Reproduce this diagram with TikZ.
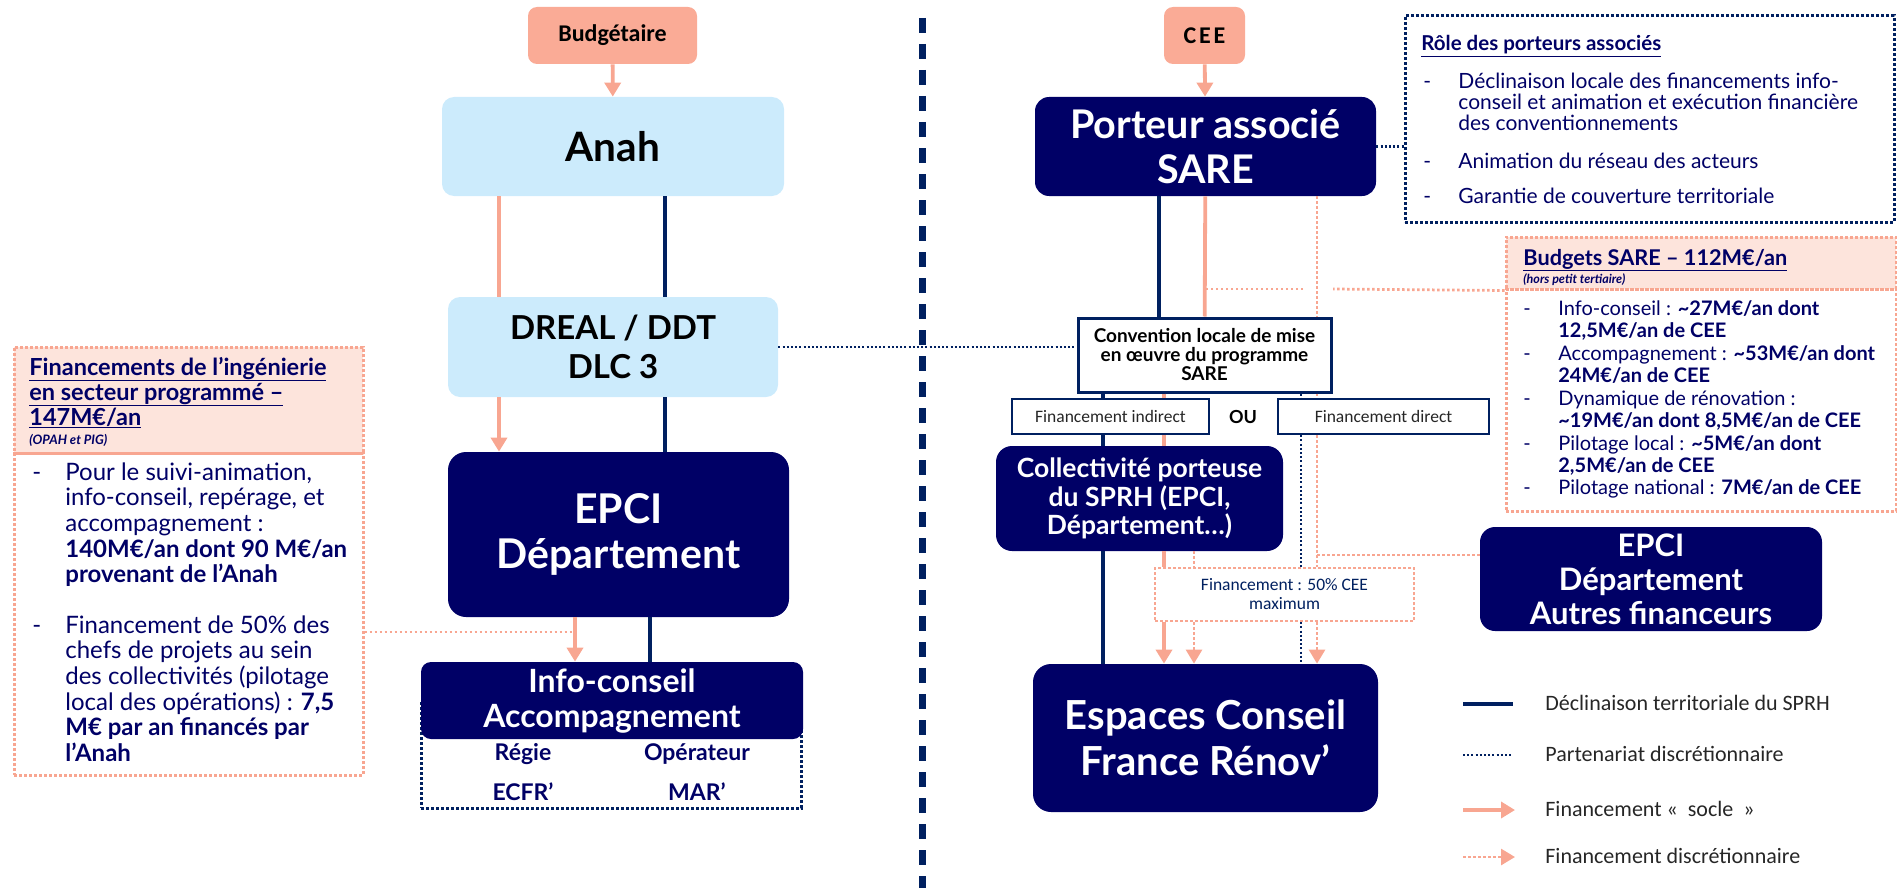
\documentclass[tikz,border=0pt]{standalone}
\usepackage{fontspec}
\setmainfont{Lato}
\newfontfamily\calib{Carlito}
\usetikzlibrary{arrows.meta}

\definecolor{navyfill}{RGB}{0,0,102}
\definecolor{navyline}{RGB}{0,32,96}
\definecolor{salmon}{RGB}{248,166,145}
\definecolor{salmonfill}{RGB}{250,171,150}
\definecolor{skyfill}{RGB}{204,235,252}
\definecolor{pinkfill}{RGB}{253,228,220}
\definecolor{legendgray}{RGB}{38,38,38}

\tikzset{every picture/.style={line width=0.75pt},
  srcbox/.style={fill=salmonfill, rounded corners=9pt, inner sep=0pt, font=\calib\fontsize{24}{26}\selectfont\bfseries},
  skybox/.style={fill=skyfill, rounded corners=12pt, inner sep=0pt, align=center},
  navybox/.style={fill=navyfill, text=white, inner sep=0pt, align=center},
  plainbox/.style={draw=navyline, fill=white, inner sep=0pt, align=center},
  notebox/.style={draw=salmon, line width=3pt, dash pattern=on 3pt off 2pt, inner sep=0pt},
  rolebox/.style={draw=navyline, line width=3pt, dash pattern=on 3pt off 2pt, inner sep=0pt},
  sprh/.style={draw=navyline, line width=3.2pt},
  partner/.style={draw=navyline, line width=2.75pt, dash pattern=on 2pt off 2.2pt},
  socleline/.style={draw=salmon, line width=3.8pt},
  socle/.style={socleline, -{Triangle[length=14pt,width=16pt]}},
  discr/.style={draw=salmon, line width=2.75pt, dash pattern=on 2.5pt off 2.5pt},
  discrarrow/.style={discr, -{Triangle[length=14pt,width=16pt]}},
  bodytext/.style={anchor=base west, align=left, text=navyfill, inner sep=0pt},
  legendtext/.style={anchor=base west, inner sep=0pt, text=legendgray, font=\calib\fontsize{22}{24}\selectfont},
  divider/.style={draw=navyline, line width=7pt, dash pattern=on 15pt off 11pt}
}

\begin{document}
\begin{tikzpicture}[x=1pt,y=1pt,yscale=-1,xscale=1]
\useasboundingbox (0,0) rectangle (1897,888);

%Divider
\coordinate (divT) at (922,18);
\coordinate (divB) at (922,888);
\draw [divider] (divT) -- (divB);

%Source boxes
\node [srcbox, minimum width=169pt, minimum height=57pt] (budget) at (612.5,35.5) {Budgétaire};
\node [srcbox, minimum width=81pt, minimum height=57pt] (cee) at (1204.5,35.5) {\addfontfeatures{LetterSpace=12}CEE};

%Left column
\node [skybox, minimum width=342pt, minimum height=99pt, font=\fontsize{40.5}{42}\selectfont\bfseries] (anah) at (613,146.5) {Anah};
\node [skybox, minimum width=330pt, minimum height=100pt, font=\fontsize{33}{39}\selectfont\bfseries] (dreal) at (613,347) {DREAL / DDT\\DLC 3};
\node [navybox, rounded corners=18pt, minimum width=341pt, minimum height=165pt, font=\fontsize{41}{45}\selectfont\bfseries] (epciL) at (618.5,534.5) {EPCI\\Département};
\node [rolebox, minimum width=380pt, minimum height=108pt] (opbox) at (611,754) {};
\node [navybox, rounded corners=10pt, minimum width=382pt, minimum height=77pt, font=\fontsize{32}{35}\selectfont\bfseries] (info) at (612,700.5) {Info-conseil\\Accompagnement};

% Text Node
\node [anchor=base, inner sep=0pt, text=navyfill, font=\fontsize{23}{25}\selectfont\bfseries] (regie) at (523,760) {Régie};
% Text Node
\node [anchor=base, inner sep=0pt, text=navyfill, font=\fontsize{23}{25}\selectfont\bfseries] (operateur) at (697,760) {Opérateur};
% Text Node
\node [anchor=base, inner sep=0pt, text=navyfill, font=\fontsize{23}{25}\selectfont\bfseries] (ecfr) at (523,800) {ECFR’};
% Text Node
\node [anchor=base, inner sep=0pt, text=navyfill, font=\fontsize{23}{25}\selectfont\bfseries] (mar) at (697,800) {MAR’};

%Left note
\node [notebox, fill=pinkfill, minimum width=349pt, minimum height=106pt] (lefthd) at (188.5,400) {};
\node [notebox, minimum width=349pt, minimum height=322pt] (leftbd) at (188.5,614) {};

% Text Node
\node [bodytext, font=\fontsize{23.5}{25}\selectfont\bfseries] (lefttitle) at (29,425) {\underline{Financements de l’ingénierie}\\\underline{en secteur programmé –}\\\underline{147M€/an}};
% Text Node
\node [bodytext, font=\fontsize{13}{15}\selectfont\bfseries\itshape] (leftnote) at (29,444) {(OPAH et PIG)};
% Text Node
\node [bodytext, font=\fontsize{24}{25.7}\selectfont] (leftdashA) at (32,480) {-};
\node [bodytext, font=\fontsize{24}{25.7}\selectfont] (leftitemA) at (65,582.8) {Pour le suivi-animation,\\info-conseil, repérage, et\\accompagnement :\\\textbf{140M€/an dont 90 M€/an}\\\textbf{provenant de l’Anah}};
% Text Node
\node [bodytext, font=\fontsize{24}{25.7}\selectfont] (leftdashB) at (32,633) {-};
\node [bodytext, font=\fontsize{24}{25.7}\selectfont] (leftitemB) at (65,761.5) {Financement de 50\% des\\chefs de projets au sein\\des collectivités (pilotage\\local des opérations) : \textbf{7,5}\\\textbf{M€ par an financés par}\\\textbf{l’Anah}};

%Right column
\node [navybox, rounded corners=14pt, minimum width=341pt, minimum height=99pt, font=\fontsize{39.5}{45}\selectfont\bfseries] (porteur) at (1205.5,146.5) {Porteur associé\\SARE};
\node [plainbox, line width=3pt, minimum width=253pt, minimum height=74pt, font=\fontsize{19}{19}\selectfont\bfseries] (conv) at (1204.5,355) {Convention locale de mise\\en œuvre du programme\\SARE};
\node [plainbox, line width=2.5pt, minimum width=197pt, minimum height=35pt, text=legendgray, font=\calib\fontsize{17.5}{20}\selectfont] (indirect) at (1110.5,416.5) {Financement indirect};
\node [inner sep=0pt, font=\fontsize{18}{19}\selectfont\bfseries] (ou) at (1243,417) {OU};
\node [plainbox, line width=2.5pt, minimum width=211pt, minimum height=35pt, text=legendgray, font=\calib\fontsize{17.5}{20}\selectfont] (direct) at (1383.5,416.5) {Financement direct};
\node [navybox, rounded corners=16pt, minimum width=287pt, minimum height=105pt, font=\fontsize{26.5}{28.5}\selectfont\bfseries] (coll) at (1139.5,498.5) {Collectivité porteuse\\du SPRH (EPCI,\\Département…)};
\node [notebox, fill=white, line width=2.25pt, minimum width=259pt, minimum height=53pt, align=center, text=navyline, font=\calib\fontsize{17.5}{19}\selectfont] (fifty) at (1284.5,594.5) {Financement : 50\% CEE\\maximum};
\node [navybox, rounded corners=18pt, minimum width=345pt, minimum height=148pt, font=\fontsize{40}{46}\selectfont\bfseries] (espaces) at (1205.5,738) {Espaces Conseil\\France Rénov’};

%Role note
\node [rolebox, minimum width=489pt, minimum height=206pt] (role) at (1649.5,119) {};
% Text Node
\node [bodytext, font=\fontsize{20.5}{22}\selectfont\bfseries] (roletitle) at (1421,51) {\underline{Rôle des porteurs associés}};
% Text Node
\node [bodytext, font=\fontsize{21}{21}\selectfont] (roledashA) at (1423,89) {-};
\node [bodytext, font=\fontsize{21}{21}\selectfont] (roleitemA) at (1458,131) {Déclinaison locale des financements info-\\conseil et animation et exécution financière\\des conventionnements};
% Text Node
\node [bodytext, font=\fontsize{21}{21}\selectfont] (roledashB) at (1423,168) {-};
\node [bodytext, font=\fontsize{21}{21}\selectfont] (roleitemB) at (1458,168) {Animation du réseau des acteurs};
% Text Node
\node [bodytext, font=\fontsize{21}{21}\selectfont] (roledashC) at (1423,203) {-};
\node [bodytext, font=\fontsize{21}{21}\selectfont] (roleitemC) at (1458,203) {Garantie de couverture territoriale};

%Budgets note
\node [notebox, fill=pinkfill, minimum width=390pt, minimum height=52pt] (budgetshd) at (1701,263) {};
\node [notebox, minimum width=390pt, minimum height=222pt] (budgetsbd) at (1701,400) {};
% Text Node
\node [bodytext, font=\fontsize{21.7}{24}\selectfont\bfseries] (budgetstitle) at (1523,265) {\underline{Budgets SARE – 112M€/an}};
% Text Node
\node [bodytext, font=\fontsize{12.5}{14}\selectfont\bfseries\itshape] (budgetsnote) at (1523,283) {(hors petit tertiaire)};
% Text Node
\node [bodytext, font=\fontsize{20}{22.4}\selectfont] (budgetsdashA) at (1523,315.5) {-};
\node [bodytext, font=\fontsize{20}{22.4}\selectfont] (budgetsitemA) at (1558,337.9) {Info-conseil : \textbf{\textasciitilde27M€/an dont}\\\textbf{12,5M€/an de CEE}};
% Text Node
\node [bodytext, font=\fontsize{20}{22.4}\selectfont] (budgetsdashB) at (1523,360.5) {-};
\node [bodytext, font=\fontsize{20}{22.4}\selectfont] (budgetsitemB) at (1558,382.9) {Accompagnement : \textbf{\textasciitilde53M€/an dont}\\\textbf{24M€/an de CEE}};
% Text Node
\node [bodytext, font=\fontsize{20}{22.4}\selectfont] (budgetsdashC) at (1523,405.5) {-};
\node [bodytext, font=\fontsize{20}{22.4}\selectfont] (budgetsitemC) at (1558,427.9) {Dynamique de rénovation :\\\textbf{\textasciitilde19M€/an dont 8,5M€/an de CEE}};
% Text Node
\node [bodytext, font=\fontsize{20}{22.4}\selectfont] (budgetsdashD) at (1523,450.5) {-};
\node [bodytext, font=\fontsize{20}{22.4}\selectfont] (budgetsitemD) at (1558,472.9) {Pilotage local : \textbf{\textasciitilde5M€/an dont}\\\textbf{2,5M€/an de CEE}};
% Text Node
\node [bodytext, font=\fontsize{20}{22.4}\selectfont] (budgetsdashE) at (1523,494.5) {-};
\node [bodytext, font=\fontsize{20}{22.4}\selectfont] (budgetsitemE) at (1558,494.5) {Pilotage national : \textbf{7M€/an de CEE}};

\node [navybox, rounded corners=15pt, minimum width=342pt, minimum height=104pt, font=\fontsize{31}{34}\selectfont\bfseries] (epciR) at (1651,579) {EPCI\\Département\\Autres financeurs};

%Columns of the connectors
\coordinate (cSl) at (499,0);
\coordinate (cNl) at (665,0);
\coordinate (cSm) at (575,0);
\coordinate (cNm) at (650,0);
\coordinate (cNa) at (1159,0);
\coordinate (cNb) at (1103,0);
\coordinate (cSb) at (1164,0);
\coordinate (cSd) at (1194,0);
\coordinate (cNd) at (1301,0);
\coordinate (cSe) at (1317,0);
\coordinate (jL) at (575,632);
\coordinate (jR) at (1317,555);
\coordinate (gapA) at (1333,289);
\coordinate (gapB) at (1303,289);

%Left connectors
\draw [socle] (budget) -- (anah);
\draw [socleline] (cSl |- anah.south) -- (cSl |- dreal.north);
\draw [sprh] (cNl |- anah.south) -- (cNl |- dreal.north);
\draw [socle] (cSl |- dreal.south) -- (cSl |- epciL.north);
\draw [sprh] (cNl |- dreal.south) -- (cNl |- epciL.north);
\draw [socle] (cSm |- epciL.south) -- (cSm |- info.north);
\draw [sprh] (cNm |- epciL.south) -- (cNm |- info.north);
\draw [discr] (jL -| leftbd.east) -- (jL);
\draw [partner] (dreal.east) -- (dreal.east -| conv.west);

%Right connectors
\draw [socle] (cee) -- (porteur);
\draw [sprh] (cNa |- porteur.south) -- (cNa |- conv.north);
\draw [socleline] (porteur) -- (conv);
\draw [discr] (cSe |- porteur.south) -- (cSe |- conv.north);
\draw [partner] (porteur.east) -- (porteur.east -| role.west);
\draw [discr] (budgetshd.south west) -- (gapA);
\draw [discr] (gapB) -- (gapB -| porteur.south);
\draw [sprh] (cNb |- conv.south) -- (cNb |- indirect.north);
\draw [sprh] (cNb |- indirect.south) -- (cNb |- coll.north);
\draw [sprh] (cNb |- coll.south) -- (cNb |- espaces.north);
\draw [socleline] (cSb |- conv.south) -- (cSb |- indirect.north);
\draw [socleline] (cSb |- indirect.south) -- (cSb |- coll.north);
\draw [socleline] (cSb |- coll.south) -- (cSb |- fifty.north);
\draw [socle] (cSb |- fifty.south) -- (cSb |- espaces.north);
\draw [discr] (cSd |- coll.south) -- (cSd |- fifty.north);
\draw [discrarrow] (cSd |- fifty.south) -- (cSd |- espaces.north);
\draw [partner] (cNd |- conv.south) -- (cNd |- direct.north);
\draw [partner] (cNd |- direct.south) -- (cNd |- fifty.north);
\draw [partner] (cNd |- fifty.south) -- (cNd |- espaces.north);
\draw [discr] (cSe |- conv.south) -- (cSe |- direct.north);
\draw [discr] (cSe |- direct.south) -- (cSe |- fifty.north);
\draw [discrarrow] (cSe |- fifty.south) -- (cSe |- espaces.north);
\draw [discr] (jR) -- (jR -| epciR.west);

%Legend
\coordinate (lgA1) at (1463,704);
\coordinate (lgB1) at (1513,704);
\coordinate (lgA2) at (1463,755);
\coordinate (lgB2) at (1511,755);
\coordinate (lgA3) at (1463,810);
\coordinate (lgB3) at (1515,810);
\coordinate (lgA4) at (1463,857);
\coordinate (lgB4) at (1515,857);
\draw [sprh] (lgA1) -- (lgB1);
\draw [partner] (lgA2) -- (lgB2);
\draw [socle] (lgA3) -- (lgB3);
\draw [discrarrow] (lgA4) -- (lgB4);
% Text Node
\node [legendtext] (lgtxtA) at (1545,710) {Déclinaison territoriale du SPRH};
% Text Node
\node [legendtext] (lgtxtB) at (1545,761) {Partenariat discrétionnaire};
% Text Node
\node [legendtext] (lgtxtC) at (1545,816) {Financement «~~socle~~»};
% Text Node
\node [legendtext] (lgtxtD) at (1545,863) {Financement discrétionnaire};
\end{tikzpicture}
\end{document}
